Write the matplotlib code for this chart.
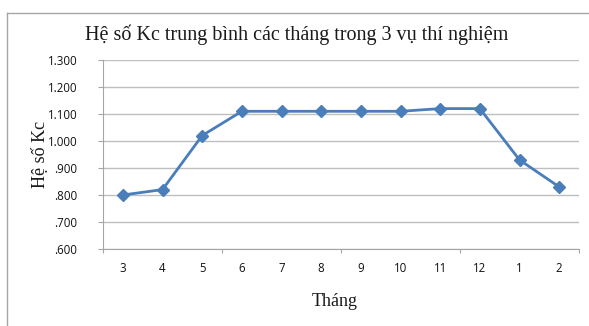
import matplotlib
matplotlib.use("Agg")
import matplotlib.pyplot as plt
from matplotlib.lines import Line2D

months = ["3", "4", "5", "6", "7", "8", "9", "10", "11", "12", "1", "2"]
kc = [0.800, 0.820, 1.020, 1.110, 1.110, 1.110, 1.110, 1.110, 1.120, 1.120, 0.930, 0.830]
yticks = [0.6, 0.7, 0.8, 0.9, 1.0, 1.1, 1.2, 1.3]
ytick_labels = [".600", ".700", ".800", ".900", "1.000", "1.100", "1.200", "1.300"]

W, H = 589, 326
fig = plt.figure(figsize=(W / 100, H / 100), dpi=100)

# outer chart border (left and top visible)
fig.add_artist(Line2D([7 / W, 7 / W], [0, 1 - 13 / H], transform=fig.transFigure,
                      color="#A6A6A6", lw=1.0))
fig.add_artist(Line2D([7 / W, 1.0], [1 - 13 / H, 1 - 13 / H], transform=fig.transFigure,
                      color="#A6A6A6", lw=1.0))

ax = fig.add_axes([103 / W, 1 - 249 / H, (579 - 103) / W, (249 - 60) / H])
x = list(range(len(months)))
ax.plot(x, kc, color="#4A7EBB", lw=2.0, marker="D", markersize=6.5,
        markerfacecolor="#4A7EBB", markeredgecolor="#4A7EBB", zorder=3)

ax.set_xlim(-0.5, len(months) - 0.5)
ax.set_ylim(0.6, 1.3)
ax.set_yticks(yticks)
ax.set_yticklabels(ytick_labels, fontfamily="Open Sans", fontsize=8.3, color="#111111")
ax.grid(axis="y", color="#BFBFBF", lw=1.0)
ax.set_axisbelow(True)

ax.set_xticks([-0.5, 2.5, 5.5, 8.5, 11.5])
ax.set_xticklabels([])
ax.set_xticks(x, minor=True)
ax.set_xticklabels(months, minor=True, fontfamily="Open Sans", fontsize=8.3, color="#111111")
ax.tick_params(axis="x", which="major", length=3, color="#A6A6A6", direction="out")
ax.tick_params(axis="x", which="minor", length=0, pad=9)
ax.tick_params(axis="y", length=3.5, color="#A6A6A6", direction="out", pad=15)

for s in ["top", "right"]:
    ax.spines[s].set_visible(False)
ax.spines["left"].set_color("#A6A6A6")
ax.spines["bottom"].set_color("#A6A6A6")

fig.text(297 / W, 1 - 35 / H, "Hệ số Kc trung bình các tháng trong 3 vụ thí nghiệm",
         ha="center", va="center", fontfamily="Liberation Serif", fontsize=14.5, color="#1a1a1a")
fig.text(40 / W, 1 - 154 / H, "Hệ số Kc", rotation=90, ha="center", va="center",
         fontfamily="Liberation Serif", fontsize=13, color="#1a1a1a")
fig.text(335 / W, 1 - 301 / H, "Tháng", ha="center", va="center",
         fontfamily="Liberation Serif", fontsize=13, color="#1a1a1a")

fig.savefig("out.png", dpi=100)
